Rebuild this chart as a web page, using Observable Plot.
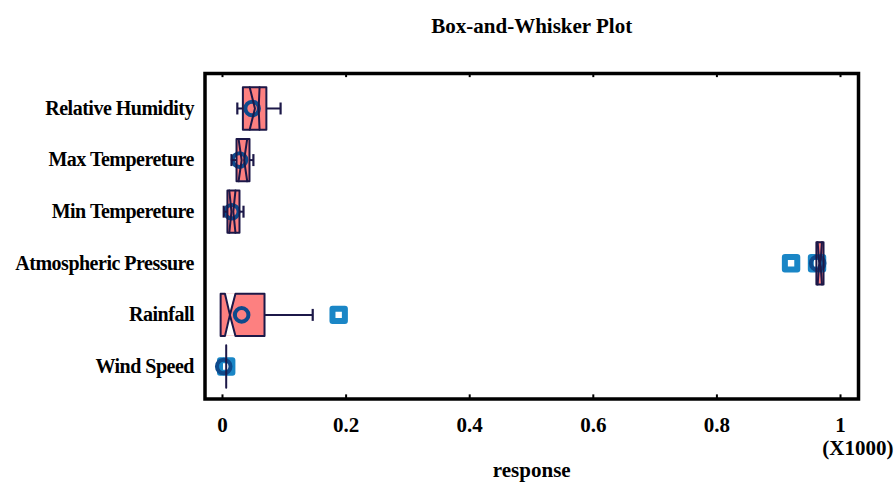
<!DOCTYPE html>
<html>
<head>
<meta charset="utf-8">
<script src="https://cdn.jsdelivr.net/npm/d3@7"></script>
<script src="https://cdn.jsdelivr.net/npm/@observablehq/plot@0.6"></script>
<style>
  html, body { margin: 0; padding: 0; background: #fff; }
  #chart svg { display: block; }
  #chart g[aria-label="y-axis tick label"] text { letter-spacing: -0.5px; }
</style>
</head>
<body>
<div id="chart"></div>
<script>
// ---- data (values in thousands) ----
const names = ["Relative Humidity", "Max Tempereture", "Min Tempereture", "Atmospheric Pressure", "Rainfall", "Wind Speed"];
const q1 = [0.033, 0.0227, 0.008, 0.961, -0.003, 0.006];
const q3 = [0.071, 0.0437, 0.0275, 0.9725, 0.068, 0.006];
const median = [0.0555, 0.033, 0.016, 0.9665, 0.012, 0.006];
const notchLo = [0.044, 0.026, 0.011, 0.963, 0.004, 0.006];
const notchHi = [0.060, 0.040, 0.021, 0.970, 0.021, 0.006];
const waist = [0.003, 0.002, 0.0015, 0.001, 0, 0];
const whiskerLo = [0.024, 0.0146, 0.002, 0.961, -0.003, 0.006];
const whiskerHi = [0.094, 0.050, 0.034, 0.9725, 0.146, 0.006];
const means = [0.048, 0.0275, 0.015, 0.963, 0.031, 0.002];
const outliers = [[], [], [], [0.920, 0.962], [0.188], [0.006]];
const xTicks = [0, 0.2, 0.4, 0.6, 0.8, 1];
const xTickLabels = ["0", "0.2", "0.4", "0.6", "0.8", "1"];
const titleText = "Box-and-Whisker Plot";
const xLabel = "response";
const xUnit = "(X1000)";

// ---- derived tables ----
const H = 0.41;      // box half-height (row units)
const CAP = 0.116;   // whisker cap half-height
const yDomain = [-0.678, 5.63];
const rows = names.map((n, i) => ({
  i, name: n, q1: q1[i], q3: q3[i], med: median[i], lo: notchLo[i], hi: notchHi[i],
  w: waist[i], wl: whiskerLo[i], wh: whiskerHi[i], mean: means[i]
}));
const isCut = r => r.w === 0 && r.q3 > r.q1;
const isFlat = r => !(r.q3 > r.q1);
const outlines = rows.flatMap(r => {
  const t = r.i - H, b = r.i + H, c = r.i;
  const pts = isCut(r)
    ? [[r.q1, t], [r.lo, t], [r.med, c], [r.hi, t], [r.q3, t], [r.q3, b], [r.hi, b], [r.med, c], [r.lo, b], [r.q1, b], [r.q1, t]]
    : [[r.q1, t], [r.q3, t], [r.q3, b], [r.q1, b], [r.q1, t]];
  return pts.map(([x, y]) => ({z: r.i, x, y}));
});
const notchLines = rows.filter(r => !isCut(r) && !isFlat(r)).flatMap(r => [
  {z: r.i + "L", x: r.lo, y: r.i - H}, {z: r.i + "L", x: r.med - r.w, y: r.i}, {z: r.i + "L", x: r.lo, y: r.i + H},
  {z: r.i + "R", x: r.hi, y: r.i - H}, {z: r.i + "R", x: r.med + r.w, y: r.i}, {z: r.i + "R", x: r.hi, y: r.i + H}
]);
const notchCuts = rows.filter(isCut).flatMap(r => [
  {z: r.i + "T", x: r.lo, y1: r.i - H, y2: r.i - H}, {z: r.i + "T", x: r.med, y1: r.i - H, y2: r.i}, {z: r.i + "T", x: r.hi, y1: r.i - H, y2: r.i - H},
  {z: r.i + "B", x: r.lo, y1: r.i + H, y2: r.i + H}, {z: r.i + "B", x: r.med, y1: r.i + H, y2: r.i}, {z: r.i + "B", x: r.hi, y1: r.i + H, y2: r.i + H}
]);
const whiskers = rows.flatMap(r => {
  const out = [];
  if (r.wl < r.q1) out.push({i: r.i, a: r.wl, b: r.q1, cap: r.wl});
  if (r.wh > r.q3) out.push({i: r.i, a: r.q3, b: r.wh, cap: r.wh});
  return out;
});
const outlierPts = outliers.flatMap((arr, i) => arr.map(v => ({i, x: v})));

const NAVY = "#1c1848";
const PINK = "#fd8080";
const FONT = "Liberation Serif";

const chart = Plot.plot({
  width: 896,
  height: 482,
  marginLeft: 204.5,
  marginRight: 38,
  marginTop: 73,
  marginBottom: 83.5,
  style: {fontFamily: FONT, fontWeight: "bold", fontSize: "20px", color: "#000", background: "#fff"},
  x: {domain: [-0.0283, 1.0291]},
  y: {domain: yDomain, reverse: true},
  marks: [
    Plot.rect(rows.filter(r => !isFlat(r)), {x1: "q1", x2: "q3", y1: d => d.i - H, y2: d => d.i + H, fill: PINK}),
    Plot.areaY(notchCuts, {x: "x", y1: "y1", y2: "y2", z: "z", fill: "#fff"}),
    Plot.dot(outlierPts, {x: "x", y: "i", symbol: "square", r: 7, fill: "#fff", stroke: "#1a86c6", strokeWidth: 6, strokeLinejoin: "round"}),
    Plot.dot(rows, {x: "mean", y: "i", r: 6.8, fill: "none", stroke: "#0e4a8c", strokeWidth: 4}),
    Plot.line(outlines, {x: "x", y: "y", z: "z", stroke: NAVY, strokeWidth: 2, strokeLinejoin: "round"}),
    Plot.line(notchLines, {x: "x", y: "y", z: "z", stroke: NAVY, strokeWidth: 2}),
    Plot.link(whiskers, {x1: "a", x2: "b", y1: "i", y2: "i", stroke: NAVY, strokeWidth: 2}),
    Plot.link(whiskers, {x1: "cap", x2: "cap", y1: d => d.i - CAP, y2: d => d.i + CAP, stroke: NAVY, strokeWidth: 2.2}),
    Plot.ruleX(xTicks, {y1: yDomain[0], y2: yDomain[0] + 0.08, stroke: "#000", strokeWidth: 2}),
    Plot.ruleX(xTicks, {y1: yDomain[1], y2: yDomain[1] - 0.08, stroke: "#000", strokeWidth: 2}),
    Plot.frame({stroke: "#000", strokeWidth: 3.5}),
    Plot.axisY({ticks: d3.range(names.length), tickFormat: i => names[i], tickSize: 0, tickPadding: 11, label: null, fontSize: 20, fontWeight: "bold"}),
    Plot.axisX({ticks: xTicks, tickFormat: (d, k) => xTickLabels[k], tickSize: 0, tickPadding: 18.5, label: null, fontSize: 21, fontWeight: "bold"}),
    Plot.text([xUnit], {frameAnchor: "bottom-right", dx: 35, dy: 49.5, textAnchor: "end", lineAnchor: "middle", fontSize: 21, fontWeight: "bold"}),
    Plot.text([xLabel], {frameAnchor: "bottom", dy: 71.5, lineAnchor: "middle", fontSize: 21, fontWeight: "bold"}),
    Plot.text([titleText], {frameAnchor: "top", dy: -47, lineAnchor: "middle", fontSize: 21, fontWeight: "bold"})
  ]
});
document.getElementById("chart").appendChild(chart);
</script>
</body>
</html>
